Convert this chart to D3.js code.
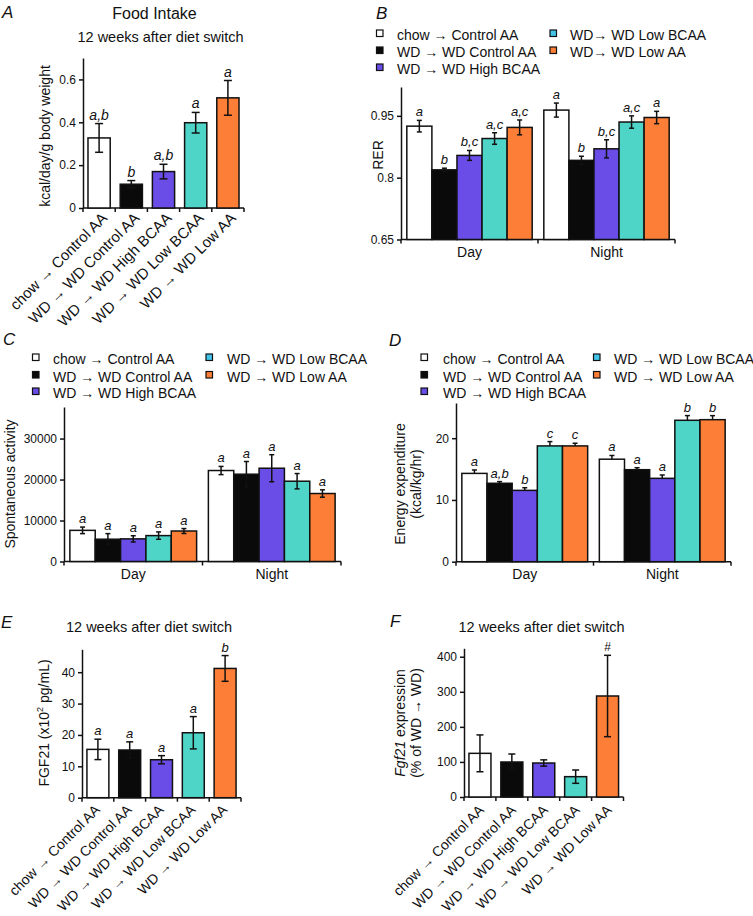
<!DOCTYPE html>
<html><head><meta charset="utf-8">
<script src="https://cdn.jsdelivr.net/npm/d3@7"></script>
<style>
body{margin:0;background:#fff;}
svg{display:block;font-family:"Liberation Sans",Arial,Helvetica,sans-serif;}
</style></head>
<body>
<script>
// ---------- DATA ----------
const groups = ["chow → Control AA","WD → WD Control AA","WD → WD High BCAA","WD → WD Low BCAA","WD → WD Low AA"];
const periods = ["Day","Night"];
const barColors = ["#ffffff","#0a0a0a","#6a4de6","#4fd5c8","#fd7f37"];
const legendColors = ["#ffffff","#0a0a0a","#6a4de6","#43c4ea","#fd7f37"];
const legendLabelsB = ["chow → Control AA","WD → WD Control AA","WD → WD High BCAA","WD→ WD Low BCAA","WD→ WD Low AA"];
const legendLabelsCD = ["chow → Control AA","WD → WD Control AA","WD → WD High BCAA","WD → WD Low BCAA","WD → WD Low AA"];

// A: food intake
const foodIntake = [0.327, 0.111, 0.170, 0.398, 0.514];
const foodIntakeErr = [0.067, 0.017, 0.034, 0.048, 0.081];
const foodIntakeSig = ["a,b","b","a,b","a","a"];
const foodTicks = [0, 0.2, 0.4, 0.6];

// B: RER
const rerDay = [0.925, 0.819, 0.854, 0.895, 0.922];
const rerDayErr = [0.014, 0.004, 0.012, 0.014, 0.018];
const rerNight = [0.964, 0.842, 0.870, 0.935, 0.946];
const rerNightErr = [0.017, 0.010, 0.022, 0.015, 0.015];
const rerDaySig = ["a","b","b,c","a,c","a,c"];
const rerNightSig = ["a","b","b,c","a,c","a"];
const rerTicks = [0.65, 0.8, 0.95];

// C: spontaneous activity
const actDay = [7600, 5440, 5520, 6320, 7440];
const actDayErr = [800, 1360, 760, 900, 600];
const actNight = [22200, 21300, 22760, 19590, 16590];
const actNightErr = [1000, 3100, 3300, 1870, 900];
const actDaySig = ["a","a","a","a","a"];
const actNightSig = ["a","a","a","a","a"];
const actTicks = [0, 10000, 20000, 30000];

// D: energy expenditure
const eeDay = [14.3, 12.7, 11.55, 18.75, 18.75];
const eeDayErr = [0.55, 0.27, 0.43, 0.7, 0.43];
const eeNight = [16.6, 14.9, 13.5, 22.9, 23.0];
const eeNightErr = [0.6, 0.32, 0.54, 0.76, 0.65];
const eeDaySig = ["a","a,b","b","c","c"];
const eeNightSig = ["a","a","a","b","b"];
const eeTicks = [0, 10, 20];

// E: FGF21
const fgf21 = [15.4, 15.2, 12.1, 20.7, 41.2];
const fgf21Err = [3.25, 2.6, 1.3, 5.15, 4.1];
const fgf21Sig = ["a","a","a","a","b"];
const fgf21Ticks = [0, 10, 20, 30, 40];

// F: Fgf21 expression
const fgfExpr = [124.5, 99.8, 96.9, 58, 288];
const fgfExprErr = [52.5, 22.8, 9, 19, 116];
const fgfExprSig = ["","","","","#"];
const fgfExprTicks = [0, 100, 200, 300, 400];

// ---------- DRAW ----------
const svg = d3.select("body").append("svg").attr("width",753).attr("height",916);

function txt(x,y,s,opt={}){
  const t = svg.append("text").attr("x",x).attr("y",y).text(s)
    .attr("font-size",opt.size||14).attr("fill","#111");
  if(opt.anchor) t.attr("text-anchor",opt.anchor);
  if(opt.italic) t.attr("font-style","italic");
  if(opt.rotate!==undefined) t.attr("transform",`rotate(${opt.rotate},${x},${y})`);
  return t;
}

function yAxis(y, x0, ticks, fmt){
  const g = svg.append("g").attr("transform",`translate(${x0},0)`)
    .call(d3.axisLeft(y).tickValues(ticks).tickSize(4).tickSizeOuter(0).tickPadding(3).tickFormat(fmt));
  g.selectAll("path,line").attr("stroke","#111").attr("stroke-width",1.5);
  g.selectAll("text").attr("font-size",12).attr("fill","#111").attr("font-family",null);
  return g;
}

function xAxisBoundaries(band, y0, n){
  const [r0,r1] = band.range();
  const step = band.step();
  svg.append("line").attr("x1",r0).attr("x2",r1).attr("y1",y0).attr("y2",y0)
    .attr("stroke","#111").attr("stroke-width",1.5);
  for(let i=0;i<=n;i++){
    const x = r0 + i*step;
    svg.append("line").attr("x1",x).attr("x2",x).attr("y1",y0).attr("y2",y0+4)
      .attr("stroke","#111").attr("stroke-width",1.5);
  }
}

function bars(xs, w, vals, errs, sigs, y, base, opt={}){
  const cap = opt.cap||6;
  vals.forEach((v,i)=>{
    svg.append("rect").attr("x",xs[i]).attr("width",w)
      .attr("y",y(v)).attr("height",y(base)-y(v))
      .attr("fill",barColors[i]).attr("stroke","#111").attr("stroke-width",1.5);
  });
  vals.forEach((v,i)=>{
    const cx = xs[i]+w/2, e = errs[i];
    const yt = y(v+e), yb = opt.upperOnly ? y(v) : y(v-e);
    svg.append("line").attr("x1",cx).attr("x2",cx).attr("y1",yt).attr("y2",yb)
      .attr("stroke","#111").attr("stroke-width",1.5);
    svg.append("line").attr("x1",cx-cap/2).attr("x2",cx+cap/2).attr("y1",yt).attr("y2",yt)
      .attr("stroke","#111").attr("stroke-width",1.5);
    if(!opt.upperOnly)
      svg.append("line").attr("x1",cx-cap/2).attr("x2",cx+cap/2).attr("y1",yb).attr("y2",yb)
        .attr("stroke","#111").attr("stroke-width",1.5);
    if(sigs[i]) txt(cx, yt-4, sigs[i], {size: opt.sigSize||13, italic: sigs[i]!=="#", anchor:"middle"});
  });
}

function simplePanel(p){
  const x = d3.scaleBand().domain(groups).range(p.xr).paddingInner(0.31).paddingOuter(0.155);
  const y = d3.scaleLinear().domain(p.dom).range(p.yr);
  yAxis(y, p.xr[0], p.ticks, p.fmt);
  xAxisBoundaries(x, p.yr[0], groups.length);
  bars(groups.map(g=>x(g)), x.bandwidth(), p.vals, p.errs, p.sigs, y, p.dom[0], {cap:p.cap, sigSize:p.sigSize});
  groups.forEach(g=>{
    const cx = x(g)+x.bandwidth()/2 + p.lab[0], cy = p.yr[0] + p.lab[1];
    txt(cx, cy, g, {size:p.lab[2], anchor:"end", rotate:-45});
  });
}

function groupedPanel(p){
  const x0 = d3.scaleBand().domain(periods).range(p.xr).paddingInner(0.085).paddingOuter(0.0425);
  const x1 = d3.scaleBand().domain(groups).range([0, x0.bandwidth()]).padding(0);
  const y = d3.scaleLinear().domain(p.dom).range(p.yr);
  yAxis(y, p.xr[0], p.ticks, p.fmt);
  xAxisBoundaries(x0, p.yr[0], periods.length);
  const series = [[p.day,p.dayErr,p.daySig],[p.night,p.nightErr,p.nightSig]];
  periods.forEach((per,k)=>{
    const xs = groups.map(g=>x0(per)+x1(g));
    bars(xs, x1.bandwidth(), series[k][0], series[k][1], series[k][2], y, p.dom[0], {cap:5, upperOnly:p.upperOnly, sigSize:13});
    txt(x0(per)+x0.bandwidth()/2, p.yr[0]+17, per, {size:14, anchor:"middle"});
  });
}

function legend(p){
  p.cols.forEach(col=>{
    col[2].forEach((idx,r)=>{
      const yb = p.rows[r];
      svg.append("rect").attr("x",col[0]).attr("y",yb-10).attr("width",6.5).attr("height",6.5)
        .attr("fill",legendColors[idx]).attr("stroke","#111").attr("stroke-width",1.2);
      txt(col[1], yb, p.labels[idx], {size:14});
    });
  });
}

// ---- Panel A ----
txt(2,18,"A",{size:17,italic:true});
txt(154.5,19,"Food Intake",{size:16,anchor:"middle"});
txt(160.5,42,"12 weeks after diet switch",{size:14.5,anchor:"middle"});
simplePanel({xr:[83,244], yr:[208,58], dom:[0,0.7], ticks:foodTicks, fmt:d=>d===0?"0":d3.format(".1f")(d),
  vals:foodIntake, errs:foodIntakeErr, sigs:foodIntakeSig, cap:8, sigSize:14, lab:[9,11,15]});
txt(50,136,"kcal/day/g body weight",{size:14,anchor:"middle",rotate:-90});

// ---- Panel B ----
txt(376,19,"B",{size:17,italic:true});
legend({cols:[[376.5,397,[0,1,2]],[550,570,[3,4]]], rows:[40,57,74], labels:legendLabelsB});
groupedPanel({xr:[401,675], yr:[239.5,87], dom:[0.65,1.02], ticks:rerTicks, fmt:d3.format(""),
  day:rerDay, dayErr:rerDayErr, daySig:rerDaySig, night:rerNight, nightErr:rerNightErr, nightSig:rerNightSig});
txt(383,155,"RER",{size:14,anchor:"middle",rotate:-90});

// ---- Panel C ----
txt(3,345,"C",{size:17,italic:true});
legend({cols:[[32.5,53,[0,1,2]],[206,227,[3,4]]], rows:[364,381.5,398], labels:legendLabelsCD});
groupedPanel({xr:[64,341], yr:[561.5,407], dom:[0,37700], ticks:actTicks, fmt:d3.format("d"),
  day:actDay, dayErr:actDayErr, daySig:actDaySig, night:actNight, nightErr:actNightErr, nightSig:actNightSig});
txt(15,484,"Spontaneous activity",{size:14,anchor:"middle",rotate:-90});

// ---- Panel D ----
txt(389,346,"D",{size:17,italic:true});
legend({cols:[[421,443,[0,1,2]],[593.5,614,[3,4]]], rows:[364,381.5,398], labels:legendLabelsCD});
groupedPanel({xr:[456,731], yr:[561.7,403], dom:[0,25.7], ticks:eeTicks, fmt:d3.format("d"), upperOnly:true,
  day:eeDay, dayErr:eeDayErr, daySig:eeDaySig, night:eeNight, nightErr:eeNightErr, nightSig:eeNightSig});
txt(405,484,"Energy expenditure",{size:14,anchor:"middle",rotate:-90});
txt(421,484,"(kcal/kg/hr)",{size:14,anchor:"middle",rotate:-90});

// ---- Panel E ----
txt(1,628,"E",{size:17,italic:true});
txt(149,632,"12 weeks after diet switch",{size:14.5,anchor:"middle"});
simplePanel({xr:[82,241], yr:[797.7,649.3], dom:[0,47.3], ticks:fgf21Ticks, fmt:d3.format("d"),
  vals:fgf21, errs:fgf21Err, sigs:fgf21Sig, cap:7, sigSize:13, lab:[3,13,14]});
{
  const t = txt(49,723,"",{size:14,anchor:"middle",rotate:-90});
  t.append("tspan").text("FGF21 (x10");
  t.append("tspan").text("2").attr("font-size",9).attr("dy",-6);
  t.append("tspan").text(" pg/mL)").attr("dy",6);
}

// ---- Panel F ----
txt(390,627,"F",{size:17,italic:true});
txt(541.5,632,"12 weeks after diet switch",{size:14.5,anchor:"middle"});
simplePanel({xr:[464,623.5], yr:[797,648.3], dom:[0,424], ticks:fgfExprTicks, fmt:d3.format("d"),
  vals:fgfExpr, errs:fgfExprErr, sigs:fgfExprSig, cap:7, sigSize:12, lab:[5,14,14]});
{
  const t = txt(405,723,"",{size:14,anchor:"middle",rotate:-90});
  t.append("tspan").text("Fgf21").attr("font-style","italic");
  t.append("tspan").text(" expression");
}
txt(421,723,"(% of WD → WD)",{size:14,anchor:"middle",rotate:-90});
</script>
</body></html>
